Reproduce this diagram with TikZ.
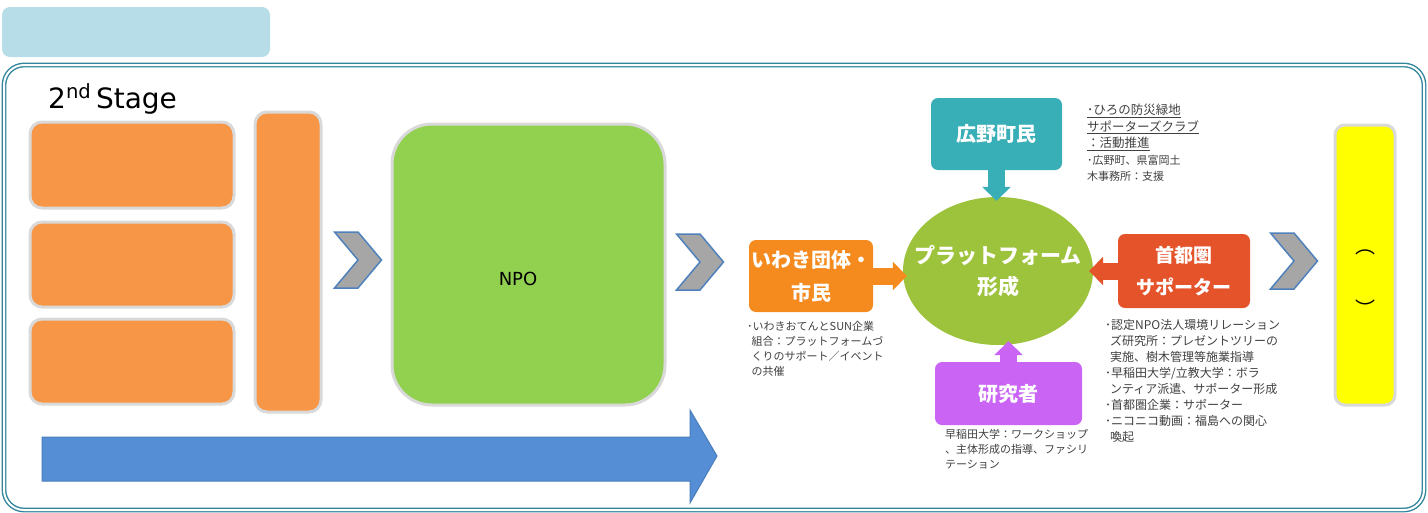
\documentclass[tikz,border=0pt]{standalone}
\usepackage{fontspec}
\setmainfont{DejaVu Sans}
\newfontfamily\jp{Noto Sans CJK JP}
\usetikzlibrary{positioning,shapes,shapes.symbols,arrows.meta}
\definecolor{panel}{HTML}{B7DDE8}
\definecolor{frame}{HTML}{31859C}
\definecolor{edgegray}{HTML}{D9D9D9}
\definecolor{org}{HTML}{F79646}
\definecolor{npogreen}{HTML}{92D050}
\definecolor{chevfill}{HTML}{A6A6A6}
\definecolor{chevline}{HTML}{4F81BD}
\definecolor{flow}{HTML}{558ED5}
\definecolor{flowline}{HTML}{4A7EBB}
\definecolor{iwaki}{HTML}{F58A1F}
\definecolor{hirono}{HTML}{38AEB7}
\definecolor{shuto}{HTML}{E4532A}
\definecolor{kenkyu}{HTML}{C964F5}
\definecolor{plat}{HTML}{9DC23B}
\definecolor{notetext}{HTML}{404040}
\definecolor{goal}{HTML}{FFFF00}

\begin{document}
\begin{tikzpicture}[x=1pt,y=-1pt,inner sep=0pt,font=\jp]
  \tikzstyle{obox}=[draw=edgegray, line width=3pt, fill=org, rounded corners=12pt]
  \tikzstyle{chev}=[signal, signal to=east, signal from=west, signal pointer angle=100,
                    draw=chevline, line width=1.5pt, fill=chevfill,
                    minimum width=46pt, minimum height=56pt]
  \tikzstyle{actor}=[rounded corners=7pt, text=white, align=center,
                     font=\jp\bfseries\fontsize{20}{33}\selectfont]
  \tikzstyle{note}=[anchor=north west, align=left, text=notetext,
                    font=\jp\fontsize{11}{15}\selectfont]
  \tikzstyle{fat}=[line width=17pt, -{Triangle[length=14pt,width=28pt]}, shorten >=-4pt]

  \useasboundingbox (0,0) rectangle (1428,512);

  \node[fill=panel, rounded corners=8pt, minimum width=268pt, minimum height=50pt] (T) at (136,32) {};
  \draw[frame, double=white, double distance=2pt, line width=1.4pt, rounded corners=20pt]
    (4,65) rectangle (1424,510);

  \node[anchor=base west, font=\fontsize{28}{30}\selectfont] (st) at (48,108)
    {2\textsuperscript{nd}\,Stage};

  % left side
  \node[obox, minimum width=204pt, minimum height=86pt] (O1) at (132,165) {};
  \node[obox, minimum width=204pt, minimum height=85pt] (O2) at (132,264.5) {};
  \node[obox, minimum width=204pt, minimum height=85pt] (O3) at (132,361.5) {};
  \node[obox, minimum width=66pt, minimum height=300pt] (O4) at (288,262) {};

  \node[chev] (C1) at (358,260) {};
  \node[obox, fill=npogreen, rounded corners=40pt, minimum width=273pt, minimum height=281pt] (G) at (528.5,264.5) {};
  \node[font=\fontsize{18}{20}\selectfont] (npo) at (518,279) {NPO};
  \node[chev] (C2) at (700,262) {};

  % time flow
  \draw[fill=flow, draw=flowline, line width=1pt]
    (42,437) -- (690,437) -- (690,410) -- (717,456) -- (690,503) -- (690,481) -- (42,481) -- cycle;

  % platform
  \node[ellipse, fill=plat, minimum width=190pt, minimum height=148pt] (E) at (998,271) {};
  \node[text=white, align=center, font=\jp\bfseries\fontsize{21}{31}\selectfont] (El) at (E.center) {プラットフォーム\\形成};
  \node[actor, fill=iwaki, minimum width=124pt, minimum height=72pt] (I) at (811,276) {いわき団体・\\市民};
  \node[actor, fill=hirono, minimum width=131pt, minimum height=72pt] (H) at (996.5,134) {広野町民};
  \node[actor, fill=shuto, minimum width=132pt, minimum height=74pt,
        font=\jp\bfseries\fontsize{19}{32}\selectfont] (S) at (1184,271) {首都圏\\サポーター};
  \node[actor, fill=kenkyu, minimum width=147pt, minimum height=63pt] (K) at (1008.5,393.5) {研究者};

  \path (I.east) edge [fat, iwaki] (I.east -| E.west)
        (S.west) edge [fat, shuto] (S.west -| E.east)
        (H.south) edge [fat, hirono] (H.south |- E.north)
        (K.north) edge [fat, kenkyu] (K.north |- E.south);

  \node[note] (nI) at (747,321)
    {･いわきおてんとSUN企業\\\hspace{0.4em}組合：プラットフォームづ\\\hspace{0.4em}くりのサポート／イベント\\\hspace{0.4em}の共催};
  \node[note, font=\jp\fontsize{12.5}{16.5}\selectfont] (nH) at (1087,104)
    {\underline{･ひろの防災緑地}\\\underline{サポーターズクラブ}\\\underline{：活動推進}\\
     {\fontsize{11}{15}\selectfont ･広野町、県富岡土}\\{\fontsize{11}{15}\selectfont 木事務所：支援}};
  \node[note] (nK) at (945,429)
    {早稲田大学：ワークショップ\\、主体形成の指導、ファシリ\\テーション};
  \node[note, font=\jp\fontsize{12}{16}\selectfont] (nS) at (1105,319)
    {･認定NPO法人環境リレーション\\\hspace{0.4em}ズ研究所：プレゼントツリーの\\\hspace{0.4em}実施、樹木管理等施業指導\\
     ･早稲田大学/立教大学：ボラ\\\hspace{0.4em}ンティア派遣、サポーター形成\\･首都圏企業：サポーター\\
     ･ニコニコ動画：福島への関心\\\hspace{0.4em}喚起};

  \node[chev] (C3) at (1294,261) {};
  \node[obox, fill=goal, rounded corners=10pt, minimum width=60pt, minimum height=280pt] (Y) at (1365,265) {};
  \node[font=\jp\fontsize{20}{20}\selectfont] (p1) at (1365,252) {︵};
  \node[font=\jp\fontsize{20}{20}\selectfont] (p2) at (1365,308) {︶};
\end{tikzpicture}
\end{document}
